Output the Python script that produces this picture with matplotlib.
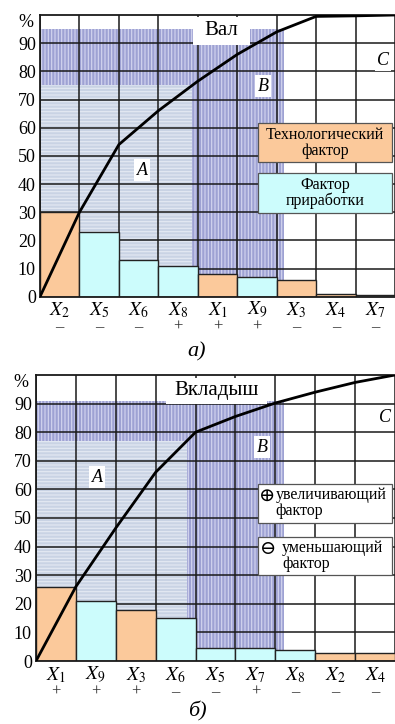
import matplotlib
matplotlib.use('Agg')
import matplotlib.pyplot as plt
from matplotlib.patches import Rectangle
import numpy as np

plt.rcParams['font.family'] = 'serif'
plt.rcParams['font.serif'] = ['Liberation Serif', 'DejaVu Serif']
plt.rcParams['mathtext.fontset'] = 'stix'
plt.rcParams['hatch.linewidth'] = 0.8

# ---- data: panel a) "Вал" ----
top_factors = ['2', '5', '6', '8', '1', '9', '3', '4', '7']
top_signs = ['–', '–', '–', '+', '+', '+', '–', '–', '–']
top_kind = ['tech', 'run', 'run', 'run', 'tech', 'run', 'tech', 'tech', 'run']
top_share = [30, 23, 13, 11, 8, 7, 6, 1, 0.5]
top_cum = [0, 30, 54, 66, 76.5, 86, 94, 99.5, 99.7, 100]
top_zones = (75, 95)

# ---- data: panel б) "Вкладыш" ----
bot_factors = ['1', '9', '3', '6', '5', '7', '8', '2', '4']
bot_signs = ['+', '+', '+', '–', '–', '+', '–', '–', '–']
bot_kind = ['tech', 'run', 'tech', 'run', 'run', 'run', 'run', 'tech', 'tech']
bot_share = [26, 21, 18, 15, 4.6, 4.6, 3.8, 2.7, 2.7]
bot_cum = [0, 26, 46.5, 66, 80, 85.5, 90.2, 94, 97.4, 100]
bot_zones = (77, 91)

colors = {'tech': '#fbc99b', 'run': '#ccfcfc'}
col_a = '#c9d3e4'
col_b = '#9ea2d3'

fig = plt.figure(figsize=(3.95, 7.24), dpi=100)
ax1 = fig.add_axes([40 / 395, 1 - 296.7 / 724, 1 - 40 / 395, (296.7 - 15) / 724])
ax2 = fig.add_axes([36 / 395, 1 - 661 / 724, 1 - 36 / 395, (661 - 375) / 724])


def draw_panel(ax, factors, signs, kind, share, cum, zones, xmax):
    x = np.arange(len(share))
    pos = np.arange(len(cum))
    xa = np.interp(zones[0], cum, pos)
    xb = np.interp(zones[1], cum, pos)

    # zones B and A (hatched)
    ax.add_patch(Rectangle((0, 0), xb, zones[1], facecolor=col_b,
                           edgecolor='#d4d6f0', hatch='|||||', lw=0, zorder=1))
    ax.add_patch(Rectangle((0, 0), xa, zones[0], facecolor=col_a,
                           edgecolor='#e4eaf3', hatch='-----', lw=0, zorder=1.1))

    ax.bar(x + 0.5, share, width=1.0, color=[colors[k] for k in kind],
           edgecolor='#222222', linewidth=1.0, zorder=2)
    ax.plot(pos, cum, color='black', lw=2.0, zorder=3, solid_capstyle='butt')

    ax.set_xlim(0, xmax)
    ax.set_ylim(0, 100)
    ax.set_xticks(np.arange(0, 10))
    ax.set_yticks(np.arange(0, 100, 10))
    ax.set_xticklabels([])
    ax.tick_params(length=0, labelsize=13, pad=3)
    ax.set_axisbelow('line')
    ax.grid(True, color='#1a1a1a', lw=1.1)
    for s in ['left', 'top', 'bottom']:
        ax.spines[s].set_linewidth(1.3)
        ax.spines[s].set_color('#1a1a1a')
    ax.spines['right'].set_visible(False)
    ax.text(-0.02, 97.3, '%', transform=ax.get_yaxis_transform(),
            ha='right', va='center', fontsize=13)

    trans = ax.get_xaxis_transform()
    for xi, f, s in zip(x, factors, signs):
        ax.text(xi + 0.5, -0.048, r'$X_{%s}$' % f, transform=trans,
                ha='center', va='center', fontsize=14)
        ax.text(xi + 0.5, -0.108, s, transform=trans,
                ha='center', va='center', fontsize=12, color='#333333')


draw_panel(ax1, top_factors, top_signs, top_kind, top_share, top_cum,
           top_zones, (395 - 40) / 40.7)
draw_panel(ax2, bot_factors, bot_signs, bot_kind, bot_share, bot_cum,
           bot_zones, (395 - 36) / 41.2)


def box(ax, x0, y0, w, h, fc, ec, text, size, ha='center', tx=None):
    ax.add_patch(Rectangle((x0, y0), w, h, transform=ax.transAxes,
                           facecolor=fc, edgecolor=ec, lw=0.9, zorder=5,
                           clip_on=False))
    if tx is None:
        tx = x0 + w / 2
    ax.text(tx, y0 + h / 2, text, transform=ax.transAxes, ha=ha,
            va='center', fontsize=size, zorder=6, linespacing=1.0)


def sym(ax, xp, yp, s):
    ax.text(xp, yp, s, transform=ax.transAxes, ha='left', va='center',
            fontsize=14, zorder=6, family=['DejaVu Serif', 'DejaVu Sans'])


def letter(ax, xp, yp, s):
    ax.text(xp, yp, s, transform=ax.transAxes, ha='center', va='center',
            fontsize=13, style='italic', zorder=6,
            bbox=dict(boxstyle='square,pad=0.12', fc='white', ec='none'))


# panel a) annotations
box(ax1, 0.431, 0.894, 0.161, 0.099, 'white', 'none', 'Вал', 15)
box(ax1, 0.614, 0.478, 0.377, 0.138, colors['tech'], '#555555',
    'Технологический\nфактор', 11.5)
box(ax1, 0.614, 0.297, 0.377, 0.142, colors['run'], '#555555',
    'Фактор\nприработки', 11.5)
letter(ax1, (142 - 40) / 355, (296.7 - 170) / 281.7, 'A')
letter(ax1, (263 - 40) / 355, (296.7 - 86) / 281.7, 'B')
letter(ax1, (383 - 40) / 355, (296.7 - 60) / 281.7, 'C')

# panel б) annotations
box(ax2, 0.362, 0.899, 0.281, 0.091, 'white', 'none', 'Вкладыш', 15)
box(ax2, 0.618, 0.483, 0.373, 0.136, 'white', '#555555',
    'увеличивающий\nфактор', 11.5, ha='left', tx=0.668)
sym(ax2, 0.620, 0.578, '⊕')
box(ax2, 0.618, 0.301, 0.373, 0.133, 'white', '#555555',
    'уменьшающий\nфактор', 11.5, ha='left', tx=0.685)
sym(ax2, 0.625, 0.393, '⊖')
letter(ax2, (97 - 36) / 359, (661 - 477) / 286, 'A')
letter(ax2, (262 - 36) / 359, (661 - 447) / 286, 'B')
letter(ax2, (385 - 36) / 359, (661 - 418) / 286, 'C')

fig.text(197 / 395, 1 - 352 / 724, 'а)', ha='center', va='center',
         fontsize=16, style='italic')
fig.text(197 / 395, 1 - 711 / 724, 'б)', ha='center', va='center',
         fontsize=16, style='italic')

fig.savefig('out.png', dpi=100)
